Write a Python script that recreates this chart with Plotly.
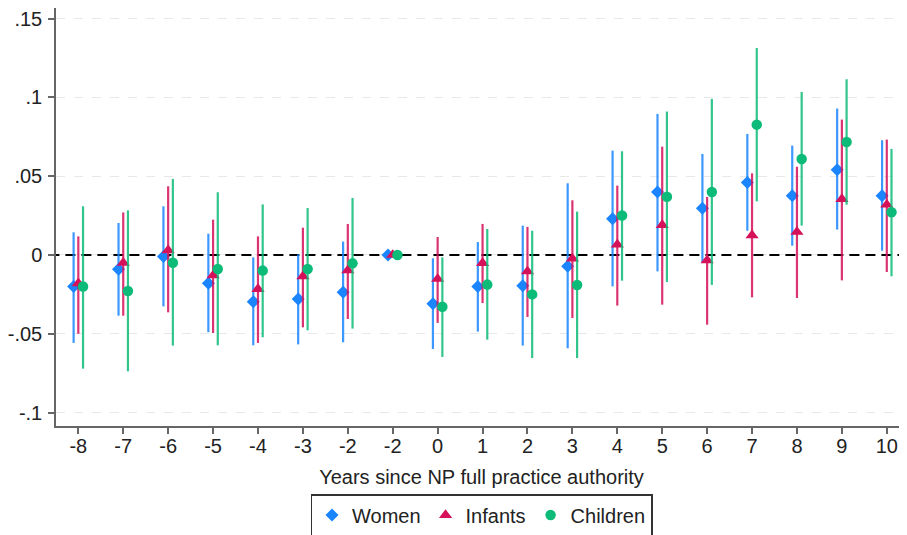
import numpy as np
import plotly.graph_objects as go

periods = ["-8", "-7", "-6", "-5", "-4", "-3", "-2", "-2", "0", "1", "2", "3",
           "4", "5", "6", "7", "8", "9", "10"]

women = [-0.020, -0.009, -0.001, -0.018, -0.0296, -0.028, -0.0237, 0, -0.031, -0.020,
         -0.0195, -0.0072, 0.023, 0.040, 0.0296, 0.046, 0.0376, 0.054, 0.0376]
women_lo = [-0.0558, -0.0385, -0.0326, -0.049, -0.0573, -0.0567, -0.0554, 0, -0.0596, -0.0486,
            -0.0575, -0.0592, -0.0199, -0.0104, -0.0051, 0.0154, 0.0059, 0.0161, 0.0027]
women_hi = [0.0144, 0.0203, 0.0309, 0.0135, -0.0015, 0.0004, 0.0085, 0, -0.0021, 0.0082,
            0.0186, 0.0455, 0.0662, 0.0895, 0.0641, 0.0768, 0.0694, 0.0929, 0.0728]

infants = [-0.018, -0.005, 0.003, -0.013, -0.0216, -0.0135, -0.0097, 0, -0.0152, -0.0051,
           -0.0104, -0.0023, 0.0066, 0.019, -0.0034, 0.0125, 0.0146, 0.0355, 0.0319]
infants_lo = [-0.050, -0.0385, -0.0364, -0.0495, -0.0558, -0.0459, -0.0406, 0, -0.0431, -0.0305,
              -0.0393, -0.040, -0.0321, -0.0315, -0.0442, -0.0269, -0.0273, -0.0161, -0.0108]
infants_hi = [0.0118, 0.027, 0.0436, 0.0224, 0.0118, 0.0173, 0.0197, 0, 0.0114, 0.0197,
              0.0178, 0.0347, 0.044, 0.0687, 0.0368, 0.0518, 0.056, 0.0859, 0.0732]

children = [-0.020, -0.0228, -0.0049, -0.0089, -0.0099, -0.0089, -0.0053, 0, -0.0328, -0.0188,
            -0.025, -0.019, 0.025, 0.037, 0.040, 0.0827, 0.0609, 0.0717, 0.0271]
children_lo = [-0.0721, -0.0738, -0.0575, -0.0573, -0.0522, -0.0478, -0.0467, 0, -0.0647, -0.0537,
               -0.0654, -0.0654, -0.0163, -0.0171, -0.019, 0.034, 0.0186, 0.0319, -0.0135]
children_hi = [0.0309, 0.0283, 0.0482, 0.0398, 0.0321, 0.0298, 0.0362, 0, -0.0015, 0.0165,
               0.0154, 0.0275, 0.0658, 0.091, 0.099, 0.1313, 0.1034, 0.1115, 0.0673]

ytick_vals = [-0.1, -0.05, 0, 0.05, 0.1, 0.15]
ytick_text = ["-.1", "-.05", "0", ".05", ".1", ".15"]
ref_value = 0

FONT = "Liberation Sans, Arial, sans-serif"
idx = np.arange(len(periods))

series = [
    ("Women", women, women_lo, women_hi, "#1a85ff", "rgba(26,133,255,0.85)", "diamond", 10, -0.105),
    ("Infants", infants, infants_lo, infants_hi, "#d41159", "rgba(212,17,89,0.85)", "triangle-up", 11.5, 0.0),
    ("Children", children, children_lo, children_hi, "#0dbb78", "rgba(13,187,120,0.85)", "circle", 10.5, 0.105),
]

fig = go.Figure()
# reference line at zero, drawn first so markers sit on top
fig.add_trace(go.Scatter(
    x=[idx[0] - 1, idx[-1] + 1], y=[ref_value, ref_value], mode="lines",
    line=dict(color="black", width=2, dash="10px,6px"), showlegend=False, hoverinfo="skip",
))
for name, est, lo, hi, col, lcol, sym, sz, off in series:
    est = np.array(est)
    lo = np.array(lo)
    hi = np.array(hi)
    fig.add_trace(go.Scatter(
        x=idx + off, y=est, mode="markers", name=name,
        marker=dict(symbol=sym, size=sz, color=col, line=dict(width=0)),
        error_y=dict(type="data", symmetric=False, array=hi - est, arrayminus=est - lo,
                     color=lcol, thickness=2.2, width=0),
    ))

fig.update_layout(
    width=899, height=527,
    margin=dict(l=48, r=0, t=0, b=109, autoexpand=False),
    paper_bgcolor="white", plot_bgcolor="white",
    font=dict(family=FONT, size=20, color="#222"),
    showlegend=True,
    legend=dict(orientation="h", x=0.5, xanchor="center", y=-0.1627, yanchor="top",
                bordercolor="#333", borderwidth=1.5, font=dict(size=20, color="#222"),
                itemwidth=30, tracegroupgap=0),
)
fig.update_xaxes(
    range=[-0.497, 18.45], tickmode="array", tickvals=idx, ticktext=periods,
    showline=True, linecolor="#666", linewidth=1.5, ticks="outside", ticklen=6,
    tickcolor="#666", tickwidth=1.5, showgrid=False, zeroline=False, automargin=False,
    tickfont=dict(size=20, color="#222"), ticklabelstandoff=-5,
    title=dict(text="Years since NP full practice authority", standoff=14,
               font=dict(size=20, color="#222")),
)
fig.update_yaxes(
    range=[-0.1085, 0.1567], tickmode="array", tickvals=ytick_vals, ticktext=ytick_text,
    showline=True, linecolor="#666", linewidth=1.5, ticks="outside", ticklen=6,
    tickcolor="#666", tickwidth=1.5, showgrid=True, gridcolor="#e8e8e8", griddash="dash",
    gridwidth=1, zeroline=False, automargin=False, tickfont=dict(size=20, color="#222"),
    ticklabelstandoff=2, ticklabeloverflow="allow",
)

fig.write_html("out.html")
